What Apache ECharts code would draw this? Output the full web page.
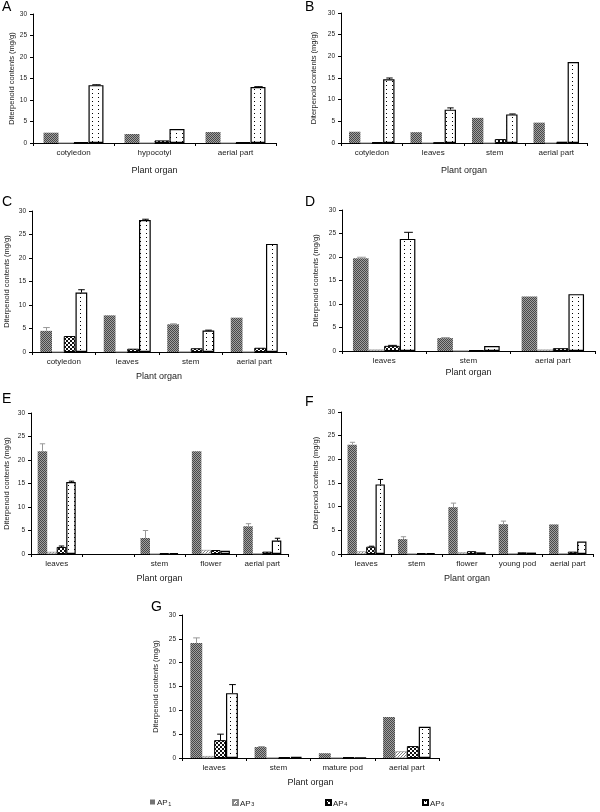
<!DOCTYPE html>
<html><head><meta charset="utf-8">
<script src="https://cdn.jsdelivr.net/npm/echarts@6/dist/echarts.min.js"></script>
<style>html,body{margin:0;padding:0;background:#fff}#c{width:600px;height:812px}</style>
</head><body><div id="c"></div>
<script>
// ---------- DATA ----------
const seriesNames = ['AP1', 'AP3', 'AP4', 'AP6'];
const legendMain = ['AP', 'AP', 'AP', 'AP'];
const legendSub = ['1', '3', '4', '6'];
const panelLetters = ['A', 'B', 'C', 'D', 'E', 'F', 'G'];
const yAxisName = 'Diterpenoid contents (mg/g)';
const xAxisName = 'Plant organ';

const A_cats = ['cotyledon', 'hypocotyl', 'aerial part'];
const A_AP1 = [2.4, 2.1, 2.55];
const A_AP3 = [0, 0, 0];
const A_AP4 = [0.2, 0.6, 0.2];
const A_AP6 = [13.45, 3.25, 13.0];
const A_err1 = [0, 0, 0];
const A_err3 = [0, 0, 0];
const A_err4 = [0, 0, 0];
const A_err6 = [0.1, 0, 0.1];

const B_cats = ['cotyledon', 'leaves', 'stem', 'aerial part'];
const B_AP1 = [2.6, 2.5, 5.8, 4.7];
const B_AP3 = [0, 0, 0, 0];
const B_AP4 = [0.2, 0.1, 0.9, 0.3];
const B_AP6 = [14.7, 7.7, 6.6, 18.7];
const B_err1 = [0, 0, 0, 0];
const B_err3 = [0, 0, 0, 0];
const B_err4 = [0, 0, 0, 0];
const B_err6 = [0.3, 0.4, 0.1, 0];

const C_cats = ['cotyledon', 'leaves', 'stem', 'aerial part'];
const C_AP1 = [4.5, 7.8, 5.9, 7.3];
const C_AP3 = [0, 0.05, 0.05, 0.05];
const C_AP4 = [3.4, 0.7, 0.8, 0.9];
const C_AP6 = [12.65, 28.1, 4.55, 23.0];
const C_err1 = [0.7, 0, 0.1, 0];
const C_err3 = [0, 0, 0, 0];
const C_err4 = [0, 0, 0, 0];
const C_err6 = [0.6, 0.15, 0.1, 0];

const D_cats = ['leaves', 'stem', 'aerial part'];
const D_AP1 = [19.75, 2.75, 11.6];
const D_AP3 = [0.3, 0.05, 0.3];
const D_AP4 = [1.1, 0.2, 0.6];
const D_AP6 = [23.85, 1.05, 12.1];
const D_err1 = [0.2, 0.1, 0];
const D_err3 = [0, 0, 0];
const D_err4 = [0.1, 0, 0];
const D_err6 = [1.4, 0, 0];

const E_cats = ['leaves', '', 'stem', 'flower', 'aerial part'];
const E_AP1 = [21.85, null, 3.4, 21.85, 5.9];
const E_AP3 = [0.45, null, 0, 0.85, 0.1];
const E_AP4 = [1.5, null, 0.15, 0.85, 0.5];
const E_AP6 = [15.3, null, 0.2, 0.7, 2.85];
const E_err1 = [1.6, 0, 1.6, 0, 0.55];
const E_err3 = [0, 0, 0, 0, 0];
const E_err4 = [0.2, 0, 0, 0, 0];
const E_err6 = [0.2, 0, 0, 0, 0.5];

const F_cats = ['leaves', 'stem', 'flower', 'young pod', 'aerial part'];
const F_AP1 = [23.1, 3.15, 9.9, 6.3, 6.25];
const F_AP3 = [0.55, 0.05, 0.35, 0.1, 0.1];
const F_AP4 = [1.55, 0.15, 0.6, 0.35, 0.5];
const F_AP6 = [14.7, 0.2, 0.35, 0.3, 2.65];
const F_err1 = [0.5, 0.5, 0.85, 0.65, 0];
const F_err3 = [0, 0, 0, 0, 0];
const F_err4 = [0.1, 0, 0, 0, 0];
const F_err6 = [1.05, 0, 0, 0, 0];

const G_cats = ['leaves', 'stem', 'mature pod', 'aerial part'];
const G_AP1 = [24.1, 2.3, 1.0, 8.6];
const G_AP3 = [0.4, 0.05, 0.05, 1.4];
const G_AP4 = [3.75, 0.15, 0.15, 2.5];
const G_AP6 = [13.6, 0.25, 0.1, 6.55];
const G_err1 = [1.1, 0.1, 0, 0];
const G_err3 = [0, 0, 0, 0];
const G_err4 = [1.25, 0, 0, 0];
const G_err6 = [1.8, 0, 0, 0];

// ---------- assembly ----------
const panels = [
  {cats: A_cats, vals: [A_AP1, A_AP3, A_AP4, A_AP6], errs: [A_err1, A_err3, A_err4, A_err6]},
  {cats: B_cats, vals: [B_AP1, B_AP3, B_AP4, B_AP6], errs: [B_err1, B_err3, B_err4, B_err6]},
  {cats: C_cats, vals: [C_AP1, C_AP3, C_AP4, C_AP6], errs: [C_err1, C_err3, C_err4, C_err6]},
  {cats: D_cats, vals: [D_AP1, D_AP3, D_AP4, D_AP6], errs: [D_err1, D_err3, D_err4, D_err6]},
  {cats: E_cats, vals: [E_AP1, E_AP3, E_AP4, E_AP6], errs: [E_err1, E_err3, E_err4, E_err6]},
  {cats: F_cats, vals: [F_AP1, F_AP3, F_AP4, F_AP6], errs: [F_err1, F_err3, F_err4, F_err6]},
  {cats: G_cats, vals: [G_AP1, G_AP3, G_AP4, G_AP6], errs: [G_err1, G_err3, G_err4, G_err6]}
];

// layout (pixels)
const layout = [
  {left: 33, top: 14, width: 243, height: 129, yGap: 17, xGap: 23, lx: 2, ly: 0},
  {left: 341, top: 13, width: 246, height: 130, yGap: 23, xGap: 23, lx: 305, ly: 0},
  {left: 32, top: 211, width: 254, height: 141, yGap: 21, xGap: 20, lx: 2, ly: 195},
  {left: 342, top: 210, width: 253, height: 141, yGap: 22, xGap: 17, lx: 305, ly: 195},
  {left: 31, top: 413, width: 257, height: 141, yGap: 20, xGap: 20, lx: 2, ly: 392},
  {left: 341, top: 412, width: 252, height: 142, yGap: 21, xGap: 20, lx: 305, ly: 395},
  {left: 182, top: 615, width: 257, height: 143, yGap: 22, xGap: 20, lx: 151, ly: 600}
];
const legendLeft = [150, 232, 325, 422];
const FONT = 'Liberation Sans, Arial, DejaVu Sans, sans-serif';
const GAP = 0.26;

function makePattern(w, h, draw) {
  const c = document.createElement('canvas');
  c.width = w; c.height = h;
  const g = c.getContext('2d');
  draw(g);
  return {image: c, repeat: 'repeat'};
}
const patAP1 = makePattern(2, 2, g => {
  g.fillStyle = '#a0a0a0'; g.fillRect(0, 0, 2, 2);
  g.fillStyle = '#484848'; g.fillRect(0, 0, 1, 1); g.fillRect(1, 1, 1, 1);
});
const patAP3 = makePattern(3, 3, g => {
  g.fillStyle = '#ffffff'; g.fillRect(0, 0, 3, 3);
  g.fillStyle = '#808080'; g.fillRect(2, 0, 1, 1); g.fillRect(1, 1, 1, 1); g.fillRect(0, 2, 1, 1);
});
const patAP4 = makePattern(4, 4, g => {
  g.fillStyle = '#111'; g.fillRect(0, 0, 4, 4);
  g.fillStyle = '#ffffff'; g.fillRect(0, 0, 2, 2); g.fillRect(2, 2, 2, 2);
});
const patAP6 = makePattern(6, 4, g => {
  g.fillStyle = '#ffffff'; g.fillRect(0, 0, 6, 4);
  g.fillStyle = '#000'; g.fillRect(2, 1, 1, 1);
});
const styles = [
  {color: patAP1, borderWidth: 0},
  {color: patAP3, borderColor: '#888', borderWidth: 0.6},
  {color: patAP4, borderColor: '#000', borderWidth: 1},
  {color: patAP6, borderColor: '#000', borderWidth: 1.2}
];
const errColors = ['#999', '#999', '#000', '#000'];

const option = {
  animation: false,
  backgroundColor: '#fff',
  textStyle: {fontFamily: FONT},
  title: [], grid: [], xAxis: [], yAxis: [], series: [], legend: []
};

panels.forEach((p, pi) => {
  const L = layout[pi];
  option.title.push({text: panelLetters[pi], left: L.lx, top: L.ly, padding: 0,
    textStyle: {fontSize: 14, fontWeight: 'normal', color: '#000', fontFamily: FONT}});
  option.grid.push({left: L.left, top: L.top, width: L.width, height: L.height, containLabel: false});
  option.xAxis.push({
    type: 'category', gridIndex: pi, data: p.cats,
    axisLine: {show: true, lineStyle: {color: '#000', width: 1}},
    axisTick: {show: true, length: 3, interval: 0, lineStyle: {color: '#000'}},
    axisLabel: {interval: 0, fontSize: 8, color: '#222', margin: 6, fontFamily: FONT},
    name: xAxisName, nameLocation: 'middle', nameGap: L.xGap, nameMoveOverlap: false,
    nameTextStyle: {fontSize: 9, color: '#222', fontFamily: FONT},
    splitLine: {show: false}
  });
  option.yAxis.push({
    type: 'value', gridIndex: pi, min: 0, max: 30, interval: 5,
    axisLine: {show: true, lineStyle: {color: '#000', width: 1}},
    axisTick: {show: true, length: 3, lineStyle: {color: '#000'}},
    axisLabel: {fontSize: 6.5, color: '#222', margin: 6, fontFamily: FONT},
    splitLine: {show: false},
    name: yAxisName, nameLocation: 'middle', nameGap: L.yGap, nameMoveOverlap: false,
    nameTextStyle: {fontSize: 7.5, color: '#222', fontFamily: FONT}
  });
  p.vals.forEach((arr, k) => {
    option.series.push({
      type: 'bar', name: seriesNames[k], xAxisIndex: pi, yAxisIndex: pi,
      data: arr, barGap: '0%', barCategoryGap: (GAP * 100) + '%',
      itemStyle: styles[k], emphasis: {disabled: true}, silent: true
    });
  });
  p.errs.forEach((earr, k) => {
    const data = [];
    earr.forEach((e, i) => { if (e > 0 && p.vals[k][i] != null) data.push([i, p.vals[k][i], e]); });
    if (!data.length) return;
    option.series.push({
      type: 'custom', name: 'err' + pi + '_' + k, xAxisIndex: pi, yAxisIndex: pi,
      encode: {x: 0, y: 1}, data: data, z: 5, silent: true,
      renderItem: (params, api) => {
        const i = api.value(0), v = api.value(1), e = api.value(2);
        const bw = api.size([1, 0])[0];
        const gw = bw * (1 - GAP);
        const barW = gw / 4;
        const off = -gw / 2 + barW * (k + 0.5);
        const p0 = api.coord([i, v]);
        const p1 = api.coord([i, v + e]);
        const x = Math.round(p0[0] + off) + 0.5;
        const cap = barW * 0.28;
        const col = errColors[k];
        return {type: 'group', children: [
          {type: 'line', shape: {x1: x, y1: p0[1], x2: x, y2: p1[1]}, style: {stroke: col, lineWidth: 1}},
          {type: 'line', shape: {x1: x - cap, y1: p1[1], x2: x + cap, y2: p1[1]}, style: {stroke: col, lineWidth: 1}}
        ]};
      }
    });
  });
});

seriesNames.forEach((n, k) => {
  option.legend.push({
    data: [{name: n, icon: 'rect'}], left: legendLeft[k], top: 799, padding: 0,
    itemWidth: 5, itemHeight: 5, itemGap: 0, selectedMode: false,
    formatter: () => '{a|' + legendMain[k] + '}{s|' + legendSub[k] + '}',
    textStyle: {
      fontSize: 8, color: '#222', fontFamily: FONT, padding: [0, 0, 0, -3],
      rich: {
        a: {fontSize: 8, color: '#222', fontFamily: FONT, lineHeight: 10, verticalAlign: 'bottom'},
        s: {fontSize: 5.5, color: '#222', fontFamily: FONT, lineHeight: 10, verticalAlign: 'bottom', padding: [0, 0, 0, 0.5]}
      }
    }
  });
});

const chart = echarts.init(document.getElementById('c'), null, {renderer: 'canvas'});
chart.setOption(option);
</script>
</body></html>
